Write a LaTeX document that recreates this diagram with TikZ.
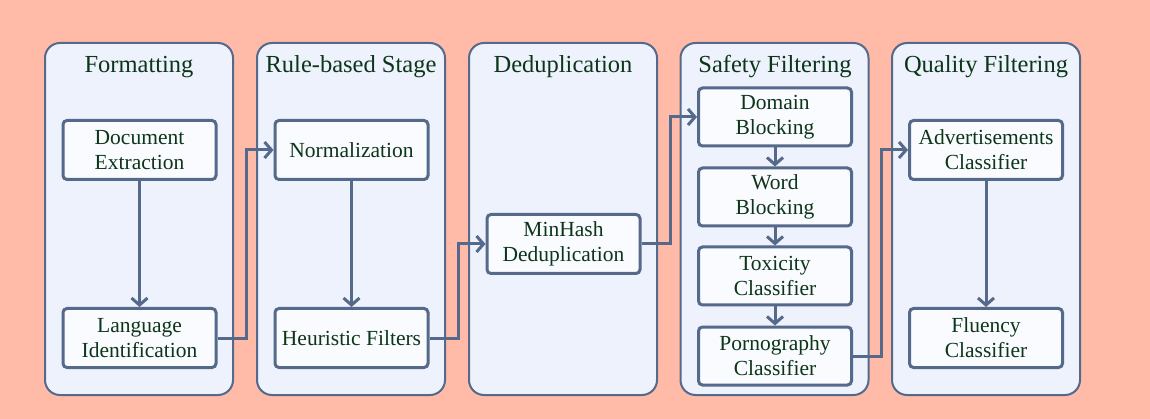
\documentclass[tikz,border=0pt]{standalone}
\usepackage{fontspec}
\setmainfont{Liberation Serif}
\usepackage{xcolor}
\usepackage{tikz}
\usetikzlibrary{arrows.meta}

\definecolor{bgsalmon}{HTML}{FFBBA8}
\definecolor{panelfill}{HTML}{EEF2FC}
\definecolor{boxfill}{HTML}{FAFBFE}
\definecolor{edge}{HTML}{55698A}
\definecolor{txt}{HTML}{0C3519}

\tikzset{
    panel/.style={draw=edge, line width=2pt, fill=panelfill, rounded corners=15pt,
        minimum width=188pt, minimum height=352pt, inner sep=0pt},
    stagetitle/.style={text=txt, font=\fontsize{24.5}{28}\selectfont},
    stepbox/.style={draw=edge, line width=3pt, fill=boxfill, rounded corners=4pt,
        minimum width=153pt, minimum height=59pt, inner sep=0pt, align=center,
        text=txt, font=\fontsize{21.5}{25}\selectfont},
    flow/.style={draw=edge, line width=3pt, -{Straight Barb[length=7pt,width=16pt]}}
}

\begin{document}
\begin{tikzpicture}[x=1pt, y=-1pt]
    % Background
    \fill[bgsalmon] (0,0) rectangle (1150,419);
    \useasboundingbox (0,0) rectangle (1150,419);

    % Draw the five stage panels
    \node[panel] (fmt) at (139,219) {};
    \node[panel] (rule) at (351,219) {};
    \node[panel] (dedup) at (563,219) {};
    \node[panel] (safe) at (774.5,219) {};
    \node[panel] (qual) at (986,219) {};

    % Panel titles
    \node[stagetitle] (fmttitle) at (139,67) {Formatting};
    \node[stagetitle] (ruletitle) at (351,67) {Rule-based Stage};
    \node[stagetitle] (deduptitle) at (563,67) {Deduplication};
    \node[stagetitle] (safetitle) at (775,67) {Safety Filtering};
    \node[stagetitle] (qualtitle) at (986,67) {Quality Filtering};

    % Formatting steps
    \node[stepbox] (docext) at (139.5,150) {Document\\Extraction};
    \node[stepbox] (langid) at (139.5,338) {Language\\Identification};

    % Rule-based steps
    \node[stepbox] (norm) at (351.5,150) {Normalization};
    \node[stepbox] (heur) at (351.5,338) {Heuristic Filters};

    % Deduplication step
    \node[stepbox] (minhash) at (563.5,244) {MinHash\\Deduplication};

    % Safety filtering steps
    \node[stepbox, minimum height=58pt] (domain) at (775,117) {Domain\\Blocking};
    \node[stepbox, minimum height=58pt] (word) at (775,197) {Word\\Blocking};
    \node[stepbox, minimum height=58pt] (toxic) at (775,276) {Toxicity\\Classifier};
    \node[stepbox, minimum height=58pt] (porn) at (775,356) {Pornography\\Classifier};

    % Quality filtering steps
    \node[stepbox] (advert) at (986,150) {Advertisements\\Classifier};
    \node[stepbox] (fluency) at (986,338) {Fluency\\Classifier};

    % Arrows inside the panels
    \draw[flow] (docext) -- (langid);
    \draw[flow] (norm) -- (heur);
    \draw[flow] (domain) -- (word);
    \draw[flow] (word) -- (toxic);
    \draw[flow] (toxic) -- (porn);
    \draw[flow] (advert) -- (fluency);

    % Arrows between the panels
    \draw[flow] (langid.east) -- ++(29,0) |- (norm.west);
    \draw[flow] (heur.east) -- ++(29,0) |- (minhash.west);
    \draw[flow] (minhash.east) -- ++(29,0) |- (domain.west);
    \draw[flow] (porn.east) -- ++(28,0) |- (advert.west);
\end{tikzpicture}
\end{document}
